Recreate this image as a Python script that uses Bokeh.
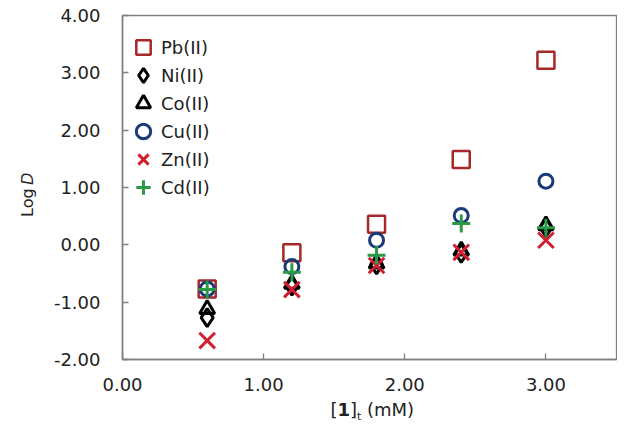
import math
from bokeh.plotting import figure
from bokeh.layouts import row, column
from bokeh.models import (Range1d, FixedTicker, NumeralTickFormatter, Legend,
                          LegendItem, Label)
from bokeh.embed import file_html
from bokeh.resources import INLINE

# ---- data ----
conc = [0.6, 1.2, 1.8, 2.4, 3.0]
pb = [-0.77, -0.14, 0.36, 1.49, 3.22]
ni = [-1.27, -0.72, -0.35, -0.15, 0.30]
co = [-1.12, -0.68, -0.33, -0.10, 0.34]
cu = [-0.77, -0.38, 0.08, 0.51, 1.11]
zn = [-1.67, -0.78, -0.36, -0.13, 0.08]
cd = [-0.78, -0.48, -0.18, 0.37, 0.30]
series_names = ["Pb(II)", "Ni(II)", "Co(II)", "Cu(II)", "Zn(II)", "Cd(II)"]
x_ticks = [0, 1, 2, 3]
y_ticks = [-2, -1, 0, 1, 2, 3, 4]

FONT = "DejaVu Sans"
TXT = "#222222"
AX = "#808080"

TOT_W = 617
LEFT_W = 40
MAIN_W = TOT_W - LEFT_W
MAIN_H = 398
BOT_H = 24

p = figure(width=MAIN_W, height=MAIN_H, x_range=Range1d(0, 3.5), y_range=Range1d(-2, 4),
           output_backend="svg", toolbar_location=None,
           min_border_left=82, min_border_right=1, min_border_top=15,
           min_border_bottom=39)
p.grid.visible = False
p.outline_line_color = AX
p.outline_line_width = 1.3

for ax, ticks in ((p.xaxis[0], x_ticks), (p.yaxis[0], y_ticks)):
    ax.ticker = FixedTicker(ticks=ticks)
    ax.formatter = NumeralTickFormatter(format="0.00")
    ax.major_tick_in = 6
    ax.major_tick_out = 0
    ax.minor_tick_in = 0
    ax.minor_tick_out = 0
    ax.axis_line_color = AX
    ax.axis_line_width = 1.6
    ax.major_tick_line_color = AX
    ax.major_tick_line_width = 1.3
    ax.major_label_text_font = FONT
    ax.major_label_text_font_size = "18px"
    ax.major_label_text_color = TXT
p.xaxis.major_label_standoff = 18
p.yaxis.major_label_standoff = 22

r_pb = p.scatter(conc, pb, marker="square", size=17, fill_color=None,
                 line_color="#A5282B", line_width=2.5)
r_ni = p.scatter(conc, ni, marker="diamond", size=18, fill_color=None,
                 line_color="black", line_width=3)
r_co = p.scatter(conc, co, marker="triangle", size=15, fill_color=None,
                 line_color="black", line_width=3)
r_cu = p.scatter(conc, cu, marker="circle", size=14, fill_color=None,
                 line_color="#1B3A78", line_width=3)
r_zn = p.scatter(conc, zn, marker="x", size=22, fill_color=None,
                 line_color="#D21F2F", line_width=3)
r_cd = p.scatter(conc, cd, marker="cross", size=18, fill_color=None,
                 line_color="#2A9A46", line_width=3)

renderers = [r_pb, r_ni, r_co, r_cu, r_zn, r_cd]


def make_legend(idx, vy):
    its = [LegendItem(label=series_names[i], renderers=[renderers[i]]) for i in idx]
    return Legend(items=its, location=(3, vy), glyph_width=36, glyph_height=56,
                  spacing=0, padding=0, margin=0, border_line_color=None,
                  background_fill_alpha=0, label_text_font=FONT,
                  label_text_font_size="18px", label_text_color=TXT,
                  label_standoff=0)


# two interleaved legends so the legend markers can be as large as in the reference
p.add_layout(make_legend([0, 2, 4], 172))
p.add_layout(make_legend([1, 3, 5], 144))

# ---- left band: y axis title "Log D" (D italic) ----
left = figure(width=LEFT_W, height=MAIN_H, x_range=Range1d(0, LEFT_W),
              y_range=Range1d(0, MAIN_H), output_backend="svg",
              toolbar_location=None, min_border=0,
              x_axis_type=None, y_axis_type=None)
left.grid.visible = False
left.outline_line_color = None
left.add_layout(Label(x=27, y=181.5, text="Log", angle=math.pi / 2, text_font=FONT,
                      text_font_size="16px", text_color=TXT,
                      text_baseline="middle", text_align="center"))
left.add_layout(Label(x=27, y=209, text="D", angle=math.pi / 2, text_font=FONT,
                      text_font_size="16px", text_font_style="italic",
                      text_color=TXT, text_baseline="middle",
                      text_align="center"))

# ---- bottom band: x axis title "[1]t (mM)" (1 bold, t subscript) ----
bot = figure(width=TOT_W, height=BOT_H, x_range=Range1d(0, TOT_W),
             y_range=Range1d(0, BOT_H), output_backend="svg",
             toolbar_location=None, min_border=0,
             x_axis_type=None, y_axis_type=None)
bot.grid.visible = False
bot.outline_line_color = None
bx, by = 330, 13
parts = [("[", 0, 0, "18px", "normal"), ("1", 7.0, 0, "18px", "bold"),
         ("]", 19.5, 0, "18px", "normal"), ("t", 26.6, -6.5, "11px", "normal"),
         ("(mM)", 36.4, 0, "18px", "normal")]
for t, dx, dy, fs, st in parts:
    bot.add_layout(Label(x=bx + dx, y=by + dy, text=t, text_font=FONT,
                         text_font_size=fs, text_font_style=st, text_color=TXT,
                         text_baseline="middle", text_align="left"))

layout = column(row(left, p, spacing=0), bot, spacing=0)
open("out.html", "w").write(file_html(layout, INLINE))
